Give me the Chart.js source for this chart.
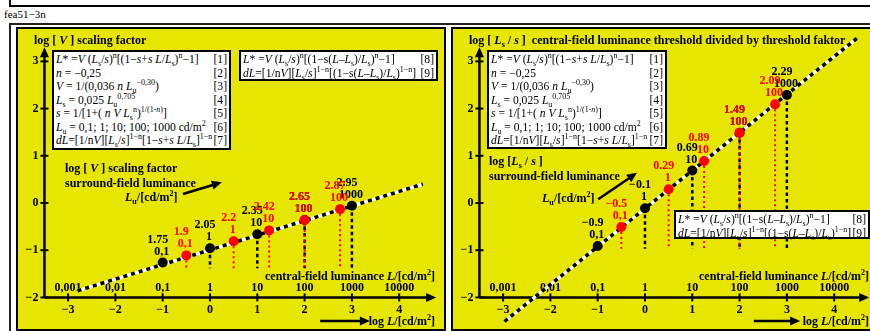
<!DOCTYPE html>
<html>
<head>
<meta charset="utf-8">
<script src="https://cdn.jsdelivr.net/npm/chart.js@4.4.0/dist/chart.umd.min.js"></script>
<style>
  body { margin: 0; width: 870px; height: 331px; position: relative; overflow: hidden; background: #fff;
         font-family: "Liberation Serif", "Times New Roman", serif; }
  .abs { position: absolute; white-space: nowrap; }
  .frame { position: absolute; box-sizing: border-box; }
  .panel { position: absolute; box-sizing: border-box; background: #e6e600; border: 2px solid #000; }
  canvas { position: absolute; }
  .lbl { font-weight: bold; font-size: 12px; line-height: 14px; z-index: 3; }
  .eq { position: absolute; box-sizing: border-box; background: #fff; border: 2.5px solid #000; z-index: 4;
        font-size: 11.6px; padding: 1px 2px 0 2px; }
  .eq div { display: flex; justify-content: space-between; height: 13.5px; line-height: 13.5px; white-space: nowrap; }
  sub, sup { font-size: 8px; line-height: 0; }
</style>
</head>
<body>
<div class="frame" style="left:9px;top:-10px;width:900px;height:17px;border:2px solid #000;border-top:none;"></div>
<div class="abs" style="left:4px;top:8px;font-size:11px;line-height:13px;">fea51−3n</div>
<div class="frame" style="left:9px;top:23px;width:900px;height:330px;border:2px solid #222;"></div>

<div class="panel" style="left:16px;top:27px;width:430px;height:304px;"></div>
<div class="panel" style="left:451px;top:27px;width:430px;height:304px;"></div>
<canvas id="chartV" width="426" height="300" style="left:18px;top:29px;"></canvas>
<canvas id="chartS" width="417" height="300" style="left:453px;top:29px;"></canvas>

<!-- left panel texts -->
<div class="abs lbl" style="left:34px;top:33px;">log [ <i>V</i> ] scaling factor</div>
<div class="abs lbl" style="left:65px;top:161px;">log [ <i>V</i> ] scaling factor</div>
<div class="abs lbl" style="left:65px;top:176px;">surround-field luminance</div>
<div class="abs lbl" style="left:125px;top:190px;"><i>L</i><sub>u</sub>/[cd/m<sup>2</sup>]</div>
<div class="abs lbl" style="right:435px;top:269px;">central-field luminance <i>L</i>/[cd/m<sup>2</sup>]</div>
<div class="abs lbl" style="right:435px;top:314px;">log <i>L</i>/[cd/m<sup>2</sup>]</div>

<!-- right panel texts -->
<div class="abs lbl" style="left:469px;top:33px;">log [ <i>L</i><sub>s</sub> / <i>s</i> ]&nbsp; central-field luminance threshold divided by threshold faktor</div>
<div class="abs lbl" style="left:489px;top:154px;">log [<i>L</i><sub>s</sub> / <i>s</i> ]</div>
<div class="abs lbl" style="left:489px;top:169px;">surround-field luminance</div>
<div class="abs lbl" style="left:542px;top:191px;"><i>L</i><sub>u</sub>/[cd/m<sup>2</sup>]</div>
<div class="abs lbl" style="right:1px;top:269px;">central-field luminance <i>L</i>/[cd/m<sup>2</sup>]</div>
<div class="abs lbl" style="right:1px;top:314px;">log <i>L</i>/[cd/m<sup>2</sup>]</div>

<div id="eqV1" class="eq" style="left:52px;top:50px;width:179px;height:100px;"></div>
<div id="eqV2" class="eq" style="left:239px;top:50px;width:199px;height:31px;"></div>
<div id="eqS1" class="eq" style="left:487px;top:50px;width:180px;height:99px;"></div>
<div id="eqS2" class="eq" style="left:674px;top:210px;width:196px;height:29px;"></div>

<script>
// axis ticks (shared by both panels)
const xTicks = [-3, -2, -1, 0, 1, 2, 3, 4];
const xTickLabels = ['−3', '−2', '−1', '0', '1', '2', '3', '4'];
const lumTickLabels = ['0,001', '0,01', '0,1', '1', '10', '100', '1000', '10000'];
const yTicks = [-2, -1, 0, 1, 2, 3];
const yTickLabels = ['−2', '−1', '0', '1', '2', '3'];
const blackSurround = ['0,1', '1', '10', '100', '1000'];
const redSurround = ['0,1', '1', '10', '100', '100'];

// left panel: log V scaling factor
const vLineX = [-2.8, 4.5];
const vLineY = [-1.86, 0.40];
const vBlackX = [-1, 0, 1, 2, 3];
const vBlackY = [-1.26, -0.96, -0.66, -0.36, -0.06];
const vBlackTop = ['1.75', '2.05', '2.35', '2.65', '2.95'];
const vRedX = [-0.5, 0.5, 1.25, 2, 2.75];
const vRedY = [-1.11, -0.81, -0.58, -0.36, -0.13];
const vRedTop = ['1.9', '2.2', '2.42', '2.65', '2.87'];
const vDropTo = -1.38;

// right panel: log Ls/s
const sLineX = [-2.97, 4.48];
const sLineY = [-2.51, 3.49];
const sBlackX = [-1, 0, 1, 2, 3];
const sBlackY = [-0.91, -0.11, 0.69, 1.49, 2.29];
const sBlackTop = ['−0.9', '−0.1', '0.69', '1.49', '2.29'];
const sRedX = [-0.5, 0.5, 1.25, 2, 2.75];
const sRedY = [-0.51, 0.29, 0.89, 1.49, 2.09];
const sRedTop = ['−0.5', '0.29', '0.89', '1.49', '2.09'];
const sDropTo = -0.97;

// equation boxes
const eqMain = [
  ['<i>L</i>* =<i>V</i> (<i>L</i><sub>s</sub>/<i>s</i>)<sup>n</sup>[(1−<i>s</i>+<i>s L</i>/<i>L</i><sub>s</sub>)<sup>n</sup>−1]', '[1]'],
  ['<i>n</i> = −0,25', '[2]'],
  ['<i>V</i> = 1/(0,036 <i>n L</i><sub>u</sub><sup>−0,30</sup>)', '[3]'],
  ['<i>L</i><sub>s</sub> = 0,025 <i>L</i><sub>u</sub><sup>0,705</sup>', '[4]'],
  ['<i>s</i> = 1/[1+( <i>n V L</i><sub>s</sub><sup>n</sup>)<sup>1/(1-<i>n</i>)</sup>]', '[5]'],
  ['<i>L</i><sub>u</sub> = 0,1; 1; 10; 100; 1000 cd/m<sup>2</sup>', '[6]'],
  ['<i>dL</i>=[1/n<i>V</i>][<i>L</i><sub>s</sub>/<i>s</i>]<sup>1−n</sup>[1−<i>s</i>+<i>s L</i>/<i>L</i><sub>s</sub>]<sup>1−n</sup>', '[7]']
];
const eqExtra = [
  ['<i>L</i>* =<i>V</i> (<i>L</i><sub>s</sub>/<i>s</i>)<sup>n</sup>[(1−s(<i>L</i>–<i>L</i><sub>s</sub>)/<i>L</i><sub>s</sub>)<sup>n</sup>−1]', '[8]'],
  ['<i>dL</i>=[1/n<i>V</i>][<i>L</i><sub>s</sub>/<i>s</i>]<sup>1−n</sup>[(1−s(<i>L</i>–<i>L</i><sub>s</sub>)/<i>L</i><sub>s</sub>)<sup>1−n</sup>]', '[9]']
];

function fillEq(id, rows) {
  document.getElementById(id).innerHTML =
    rows.map(r => `<div><span>${r[0]}</span><span>${r[1]}</span></div>`).join('');
}
fillEq('eqV1', eqMain); fillEq('eqS1', eqMain);
fillEq('eqV2', eqExtra); fillEq('eqS2', eqExtra);

const FONT = '"Liberation Serif", "Times New Roman", serif';

function arrowHead(ctx, x1, y1, x2, y2, len, half) {
  const a = Math.atan2(y2 - y1, x2 - x1);
  ctx.beginPath();
  ctx.moveTo(x2, y2);
  ctx.lineTo(x2 - len * Math.cos(a) + half * Math.sin(a), y2 - len * Math.sin(a) - half * Math.cos(a));
  ctx.lineTo(x2 - len * Math.cos(a) - half * Math.sin(a), y2 - len * Math.sin(a) + half * Math.cos(a));
  ctx.closePath();
  ctx.fill();
}

function arrow(ctx, x1, y1, x2, y2, w) {
  const a = Math.atan2(y2 - y1, x2 - x1);
  ctx.lineWidth = w;
  ctx.beginPath();
  ctx.moveTo(x1, y1);
  ctx.lineTo(x2 - 6 * Math.cos(a), y2 - 6 * Math.sin(a));
  ctx.stroke();
  arrowHead(ctx, x1, y1, x2, y2, 10, 4.5);
}

const axesPlugin = {
  id: 'axes',
  beforeDatasetsDraw(chart, args, p) {
    const { ctx, scales: { x, y } } = chart;
    const ax = x.getPixelForValue(-3.5), ay = y.getPixelForValue(-2);
    ctx.save();
    ctx.strokeStyle = '#000'; ctx.fillStyle = '#000';
    arrow(ctx, ax, ay, x.getPixelForValue(p.xEnd), ay, 2.5);
    arrow(ctx, ax, ay, ax, y.getPixelForValue(3.3), 2.5);
    ctx.lineWidth = 2;
    xTicks.forEach(v => {
      const px = x.getPixelForValue(v);
      ctx.beginPath(); ctx.moveTo(px, ay - 4); ctx.lineTo(px, ay + 4); ctx.stroke();
    });
    yTicks.forEach(v => {
      const py = y.getPixelForValue(v);
      ctx.beginPath(); ctx.moveTo(ax - 4, py); ctx.lineTo(ax + 4, py); ctx.stroke();
    });
    ctx.font = 'bold 12px ' + FONT;
    ctx.textAlign = 'center'; ctx.textBaseline = 'middle';
    xTicks.forEach((v, i) => {
      const px = x.getPixelForValue(v);
      ctx.fillText(xTickLabels[i], px, ay + 12);
      ctx.fillText(lumTickLabels[i], px, ay - 10);
    });
    ctx.textAlign = 'right';
    yTicks.forEach((v, i) => ctx.fillText(yTickLabels[i], ax - 6, y.getPixelForValue(v)));
    // annotation arrows
    const a = p.lumArrow, b = p.logArrow;
    arrow(ctx, x.getPixelForValue(a[0]), y.getPixelForValue(a[1]), x.getPixelForValue(a[2]), y.getPixelForValue(a[3]), 2.5);
    arrow(ctx, x.getPixelForValue(b[0]), y.getPixelForValue(b[1]), x.getPixelForValue(b[2]), y.getPixelForValue(b[3]), 2.5);
    ctx.restore();
  },
  afterDatasetsDraw(chart, args, p) {
    const { ctx, scales: { x, y } } = chart;
    ctx.save();
    ctx.font = 'bold 12px ' + FONT;
    ctx.textAlign = 'center'; ctx.textBaseline = 'middle';
    const put = (xs, ys, tops, bottoms, color) => {
      ctx.fillStyle = color;
      xs.forEach((v, i) => {
        const px = x.getPixelForValue(v), py = y.getPixelForValue(ys[i]);
        ctx.fillText(tops[i], px - 5, py - 23);
        ctx.fillText(bottoms[i], px - 1, py - 11);
      });
    };
    put(p.blackX, p.blackY, p.blackTop, blackSurround, '#000');
    put(p.redX, p.redY, p.redTop, redSurround, '#f00');
    ctx.restore();
  }
};

function makePanel(id, d, xMax) {
  const pts = (xs, ys) => xs.map((v, i) => ({ x: v, y: ys[i] }));
  const drops = [];
  d.blackX.forEach((v, i) => drops.push({
    data: [{ x: v, y: d.blackY[i] }, { x: v, y: d.dropTo }], showLine: true,
    borderColor: '#000', borderWidth: 2.5, borderDash: [3.5, 3], pointRadius: 0, order: 6
  }));
  d.redX.forEach((v, i) => drops.push({
    data: [{ x: v, y: d.redY[i] }, { x: v, y: d.dropTo }], showLine: true,
    borderColor: '#f00', borderWidth: 2, borderDash: [2, 3], pointRadius: 0, order: 5
  }));
  return new Chart(document.getElementById(id), {
    type: 'scatter',
    data: {
      datasets: [
        ...drops,
        { data: pts(d.lineX, d.lineY), showLine: true, borderColor: '#fff', borderWidth: 3.5, pointRadius: 0, order: 4 },
        { data: pts(d.lineX, d.lineY), showLine: true, borderColor: '#000', borderWidth: 3.5, borderDash: [4, 4], pointRadius: 0, order: 3 },
        { data: pts(d.blackX, d.blackY), pointRadius: 5, pointBackgroundColor: '#000', pointBorderWidth: 0, order: 2 },
        { data: pts(d.redX, d.redY), pointRadius: 5, pointBackgroundColor: '#f00', pointBorderWidth: 0, order: 1 }
      ]
    },
    options: {
      responsive: false, animation: false, events: [],
      layout: { padding: 0, autoPadding: false },
      plugins: { legend: { display: false }, tooltip: { enabled: false }, axes: d },
      scales: {
        x: { type: 'linear', min: -4.059, max: xMax, display: false },
        y: { type: 'linear', min: -2.669, max: 3.686, display: false }
      }
    },
    plugins: [axesPlugin]
  });
}

makePanel('chartV', {
  lineX: vLineX, lineY: vLineY, blackX: vBlackX, blackY: vBlackY, blackTop: vBlackTop,
  redX: vRedX, redY: vRedY, redTop: vRedTop, dropTo: vDropTo, xEnd: 4.78,
  lumArrow: [-0.57, 0.19, 0.25, 0.44], logArrow: [2.33, -2.5, 3.38, -2.5]
}, 4.947);

makePanel('chartS', {
  lineX: sLineX, lineY: sLineY, blackX: sBlackX, blackY: sBlackY, blackTop: sBlackTop,
  redX: sRedX, redY: sRedY, redTop: sRedTop, dropTo: sDropTo, xEnd: 4.74,
  lumArrow: [-0.99, 0.08, -0.17, 0.64], logArrow: [2.3, -2.5, 3.28, -2.5]
}, 4.757);
</script>
</body>
</html>
